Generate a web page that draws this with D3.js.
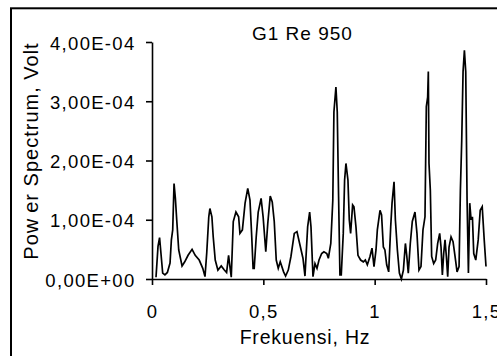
<!DOCTYPE html>
<html>
<head>
<meta charset="utf-8">
<script src="https://cdn.jsdelivr.net/npm/d3@7"></script>
<style>
  body { margin: 0; background: #fff; }
  svg { display: block; font-family: "Liberation Sans", Arial, sans-serif; }
  .axis path, .axis line { stroke: #000; stroke-width: 1.6; }
  .axis text { fill: #000; font-size: 18.5px; letter-spacing: 1.3px; }
</style>
</head>
<body>
<svg id="chart" width="497" height="356"></svg>
<script>
// frequency (Hz) and power spectrum (units of 1e-4 V)
const freq = [
  0.018, 0.027, 0.034, 0.048, 0.058, 0.069, 0.081, 0.087, 0.093, 0.099,
  0.105, 0.111, 0.120, 0.135, 0.147, 0.162, 0.180, 0.194, 0.212, 0.228,
  0.238, 0.246, 0.255, 0.260, 0.269, 0.275, 0.284, 0.296, 0.311, 0.323,
  0.335, 0.344, 0.350, 0.356, 0.365, 0.377, 0.389, 0.395, 0.406, 0.418,
  0.430, 0.440, 0.448, 0.454, 0.459, 0.468, 0.477, 0.490, 0.499, 0.511,
  0.520, 0.531, 0.540, 0.549, 0.558, 0.567, 0.576, 0.591, 0.600, 0.612,
  0.624, 0.639, 0.651, 0.663, 0.678, 0.687, 0.699, 0.708, 0.714, 0.723,
  0.732, 0.741, 0.750, 0.762, 0.772, 0.785, 0.792, 0.803, 0.812, 0.817,
  0.826, 0.832, 0.838, 0.844, 0.850, 0.859, 0.865, 0.871, 0.880, 0.886,
  0.892, 0.901, 0.907, 0.916, 0.925, 0.937, 0.949, 0.958, 0.967, 0.979,
  0.988, 0.997, 1.006, 1.012, 1.024, 1.031, 1.039, 1.046, 1.054, 1.063,
  1.072, 1.078, 1.087, 1.093, 1.102, 1.111, 1.120, 1.129, 1.138, 1.144,
  1.151, 1.160, 1.169, 1.181, 1.190, 1.199, 1.208, 1.217, 1.226, 1.232,
  1.238, 1.241, 1.244, 1.250, 1.256, 1.265, 1.274, 1.283, 1.292, 1.298,
  1.304, 1.310, 1.316, 1.322, 1.328, 1.334, 1.343, 1.352, 1.361, 1.370,
  1.379, 1.385, 1.391, 1.397, 1.403, 1.409, 1.415, 1.421, 1.427, 1.433,
  1.439, 1.445, 1.454, 1.465, 1.474, 1.483, 1.492, 1.500
];
const powerE4 = [
  0.03, 0.55, 0.70, 0.10, 0.07, 0.11, 0.27, 0.66, 0.83, 1.61,
  1.36, 1.00, 0.49, 0.22, 0.29, 0.40, 0.50, 0.40, 0.32, 0.18,
  0.04, 0.45, 1.05, 1.19, 1.05, 0.71, 0.32, 0.15, 0.22, 0.16,
  0.11, 0.40, 0.21, 0.03, 0.97, 1.13, 1.05, 0.77, 0.83, 1.28,
  1.53, 1.33, 0.71, 0.18, 0.18, 0.71, 1.13, 1.36, 1.05, 0.46,
  0.94, 1.40, 1.30, 0.97, 0.32, 0.18, 0.29, 0.12, 0.05, 0.15,
  0.38, 0.77, 0.80, 0.60, 0.35, 0.05, 0.88, 1.13, 0.88, 0.04,
  0.26, 0.18, 0.32, 0.43, 0.46, 0.43, 0.35, 0.60, 1.33, 2.82,
  3.24, 2.82, 1.39, 0.07, 0.07, 0.77, 1.67, 1.95, 1.67, 1.00,
  0.77, 1.25, 1.22, 0.88, 0.40, 0.32, 0.29, 0.32, 0.24, 0.38,
  0.52, 0.21, 0.49, 0.83, 1.16, 1.08, 0.54, 0.49, 0.24, 0.12,
  0.88, 1.28, 1.64, 1.00, 0.49, 0.10, 0.00, 0.15, 0.60, 0.40,
  0.10, 0.60, 0.97, 1.13, 0.77, 0.15, 0.21, 0.83, 1.05, 2.91,
  3.07, 3.50, 1.95, 1.50, 0.38, 0.26, 0.32, 0.60, 0.77, 0.54,
  0.07, 0.43, 0.66, 0.38, 0.04, 0.54, 0.71, 0.63, 0.38, 0.12,
  0.21, 1.50, 2.34, 3.50, 3.86, 3.50, 1.33, 0.10, 1.28, 1.00,
  1.05, 0.43, 0.32, 0.66, 1.16, 1.22, 0.66, 0.21
];
const xTicks = [0, 0.5, 1, 1.5];
const yTicks = [0, 1e-4, 2e-4, 3e-4, 4e-4];
const title = 'G1 Re 950';
const xTitle = 'Frekuensi, Hz';

const svg = d3.select('#chart');

// outer frame (runs off the right and bottom edge)
svg.append('rect')
  .attr('x', 11).attr('y', 8.3)
  .attr('width', 700).attr('height', 500)
  .attr('fill', 'none').attr('stroke', '#000').attr('stroke-width', 2);

const x = d3.scaleLinear().domain([0, 1.5]).range([152, 486]);
const y = d3.scaleLinear().domain([0, 4e-4]).range([279, 42]);

// "4,00E-04" style labels
const sciFmt = v => {
  const [m, e] = v.toExponential(2).split('e');
  const sign = e[0] === '-' ? '-' : '+';
  const exp = String(Math.abs(+e)).padStart(2, '0');
  return m.replace('.', ',') + 'E' + sign + exp;
};
const decFmt = v => String(v).replace('.', ',');

const yAxis = svg.append('g')
  .attr('class', 'axis')
  .attr('transform', 'translate(152,0)')
  .call(d3.axisLeft(y).tickValues(yTicks).tickFormat(sciFmt)
    .tickSize(6).tickSizeOuter(0).tickPadding(10.5));
yAxis.selectAll('text').attr('dy', '0.38em');

const xAxis = svg.append('g')
  .attr('class', 'axis')
  .attr('transform', 'translate(0,279)')
  .call(d3.axisBottom(x).tickValues(xTicks).tickFormat(decFmt)
    .tickSize(6).tickSizeOuter(0).tickPadding(20));

const line = d3.line()
  .x((d, i) => x(freq[i]))
  .y(d => y(d * 1e-4));

svg.append('path')
  .datum(powerE4)
  .attr('d', line)
  .attr('fill', 'none')
  .attr('stroke', '#000')
  .attr('stroke-width', 1.7)
  .attr('stroke-linejoin', 'miter');

svg.append('text')
  .attr('x', 252).attr('y', 40)
  .style('font-size', '19px').style('letter-spacing', '1px')
  .text(title);

svg.append('text')
  .attr('x', 305).attr('y', 344.3)
  .attr('text-anchor', 'middle')
  .style('font-size', '19.5px').style('letter-spacing', '0.8px')
  .text(xTitle);

// y title: a small gap between "Pow" and "er" as in the original
const yt = svg.append('text')
  .attr('transform', 'translate(38.3,151) rotate(-90)')
  .attr('text-anchor', 'middle')
  .style('font-size', '20px').style('letter-spacing', '1px');
yt.append('tspan').text('Pow');
yt.append('tspan').attr('dx', 5).text('er Spectrum, Volt');
</script>
</body>
</html>
